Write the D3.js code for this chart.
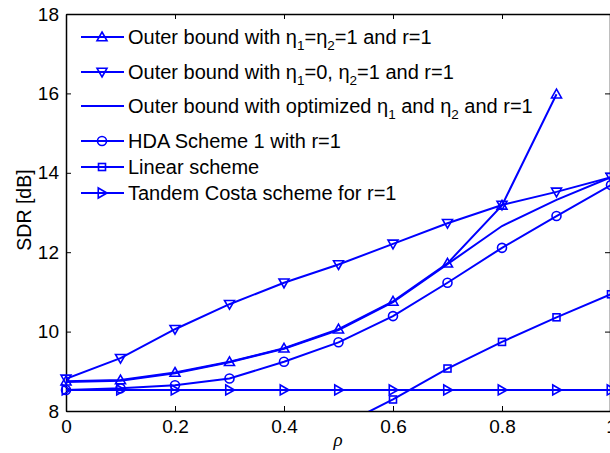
<!DOCTYPE html>
<html><head><meta charset="utf-8">
<script src="https://cdn.jsdelivr.net/npm/d3@7"></script>
<style>body{margin:0;background:#fff}svg{display:block;font-family:"Liberation Sans",Arial,sans-serif}</style>
</head><body>
<script>
const rho = [0,0.1,0.2,0.3,0.4,0.5,0.6,0.7,0.8,0.9,1.0];
const outerEq1 = [8.75,8.78,8.97,9.24,9.58,10.06,10.76,11.72,13.18,15.98];
const outerEta0 = [8.81,9.33,10.06,10.69,11.23,11.69,12.21,12.73,13.19,13.52,13.89];
const outerOpt = [8.73,8.76,8.95,9.23,9.57,10.04,10.74,11.70,12.66,13.32,13.89];
const hda = [8.53,8.57,8.65,8.82,9.24,9.73,10.39,11.23,12.11,12.91,13.69];
const linearRho = [0.5,0.6,0.7,0.8,0.9,1.0];
const linear = [7.6,8.29,9.07,9.74,10.36,10.94];
const tandem = [8.53,8.53,8.53,8.53,8.53,8.53,8.53,8.53,8.53,8.53,8.53];
const xTicks = [0,0.2,0.4,0.6,0.8,1];
const yTicks = [8,10,12,14,16,18];
const labels = ["Outer bound with η1=η2=1 and r=1","Outer bound with η1=0, η2=1 and r=1","Outer bound with optimized η1 and η2 and r=1","HDA Scheme 1 with r=1","Linear scheme","Tandem Costa scheme for r=1"];

const W=610,H=453, L=66, R=611, T=14, B=411;
const svg=d3.select("body").append("svg").attr("width",W).attr("height",H);
const x=d3.scaleLinear().domain([0,1]).range([L,R]);
const y=d3.scaleLinear().domain([8,18]).range([B,T]);
const blue="#0000ff";

svg.append("defs").append("clipPath").attr("id","clip").append("rect").attr("x",L).attr("y",T).attr("width",R-L).attr("height",B-T);

const fs=19;
const gx=svg.append("g").attr("transform",`translate(0,${B})`).call(d3.axisBottom(x).tickValues(xTicks).tickSizeInner(-5).tickSizeOuter(0).tickPadding(9).tickFormat(d3.format("")));
const gxt=svg.append("g").attr("transform",`translate(0,${T})`).call(d3.axisTop(x).tickValues(xTicks).tickSizeInner(-5).tickSizeOuter(0).tickFormat(""));
const gy=svg.append("g").attr("transform",`translate(${L},0)`).call(d3.axisLeft(y).tickValues(yTicks).tickSizeInner(-5).tickSizeOuter(0).tickPadding(7));
const gyr=svg.append("g").attr("transform",`translate(${R-1},0)`).call(d3.axisRight(y).tickValues(yTicks).tickSizeInner(-5).tickSizeOuter(0).tickFormat(""));
[gx,gxt,gy,gyr].forEach(g=>{
  g.selectAll("path.domain").attr("stroke","#000").attr("stroke-width",1.5);
  g.selectAll("line").attr("stroke","#000").attr("stroke-width",1);
  g.selectAll("text").attr("font-size",fs).attr("fill","#000").attr("font-family","Liberation Sans, Arial, sans-serif");
});
gx.selectAll("text").attr("dy","0.71em");

svg.append("text").attr("x",338).attr("y",446).attr("text-anchor","middle").attr("font-size",19).attr("font-style","italic").attr("font-family","Liberation Serif, serif").text("ρ");
svg.append("text").attr("transform","translate(31,210) rotate(-90)").attr("text-anchor","middle").attr("font-size",19.5).text("SDR [dB]");

const line=d3.line().x(d=>x(d[0])).y(d=>y(d[1]));
const series=[
 {xs:rho,ys:outerEq1,m:"up"},
 {xs:rho,ys:outerEta0,m:"down"},
 {xs:rho,ys:outerOpt,m:null},
 {xs:rho,ys:hda,m:"circle"},
 {xs:linearRho,ys:linear,m:"square"},
 {xs:rho,ys:tandem,m:"right"}
];
function marker(g,type,cx,cy){
  const s=5;
  if(type==="up") g.append("path").attr("d",`M${cx},${cy-s}L${cx+s},${cy+s*0.75}L${cx-s},${cy+s*0.75}Z`);
  else if(type==="down") g.append("path").attr("d",`M${cx},${cy+s}L${cx+s},${cy-s*0.75}L${cx-s},${cy-s*0.75}Z`);
  else if(type==="right") g.append("path").attr("d",`M${cx+s},${cy}L${cx-s*0.75},${cy+s}L${cx-s*0.75},${cy-s}Z`);
  else if(type==="circle") g.append("circle").attr("cx",cx).attr("cy",cy).attr("r",4.5);
  else if(type==="square") g.append("rect").attr("x",cx-3.5).attr("y",cy-3.5).attr("width",7).attr("height",7);
}
const plot=svg.append("g");
series.forEach(s=>{
  const pts=s.ys.map((v,i)=>[s.xs[i],v]);
  plot.append("path").datum(pts).attr("d",line).attr("fill","none").attr("stroke",blue).attr("stroke-width",2).attr("clip-path","url(#clip)");
  if(s.m){
    const g=plot.append("g").attr("fill","none").attr("stroke",blue).attr("stroke-width",1.6);
    pts.filter(p=>p[1]>=8&&p[1]<=18).forEach(p=>marker(g,s.m,x(p[0]),y(p[1])));
  }
});

const rows=[37,72,106,141,167,193];
const leg=svg.append("g");
function richText(t,str){
  const re=/η([12])/g; let last=0,m,pendingUp=false;
  while((m=re.exec(str))){
    const a=t.append("tspan").text(str.slice(last,m.index)+"η");
    if(pendingUp) a.attr("dy",-6);
    t.append("tspan").attr("font-size",13.5).attr("dy",6).text(m[1]);
    pendingUp=true;
    last=re.lastIndex;
  }
  const b=t.append("tspan").text(str.slice(last));
  if(pendingUp) b.attr("dy",-6);
}
series.forEach((s,i)=>{
  const yy=rows[i];
  leg.append("line").attr("x1",81).attr("x2",124).attr("y1",yy).attr("y2",yy).attr("stroke",blue).attr("stroke-width",2);
  if(s.m){const g=leg.append("g").attr("fill","none").attr("stroke",blue).attr("stroke-width",1.6);marker(g,s.m,102,yy);}
  const t=leg.append("text").attr("x",128).attr("y",yy+7).attr("font-size",20).attr("fill","#000");
  richText(t,labels[i]);
});
</script>
</body></html>
